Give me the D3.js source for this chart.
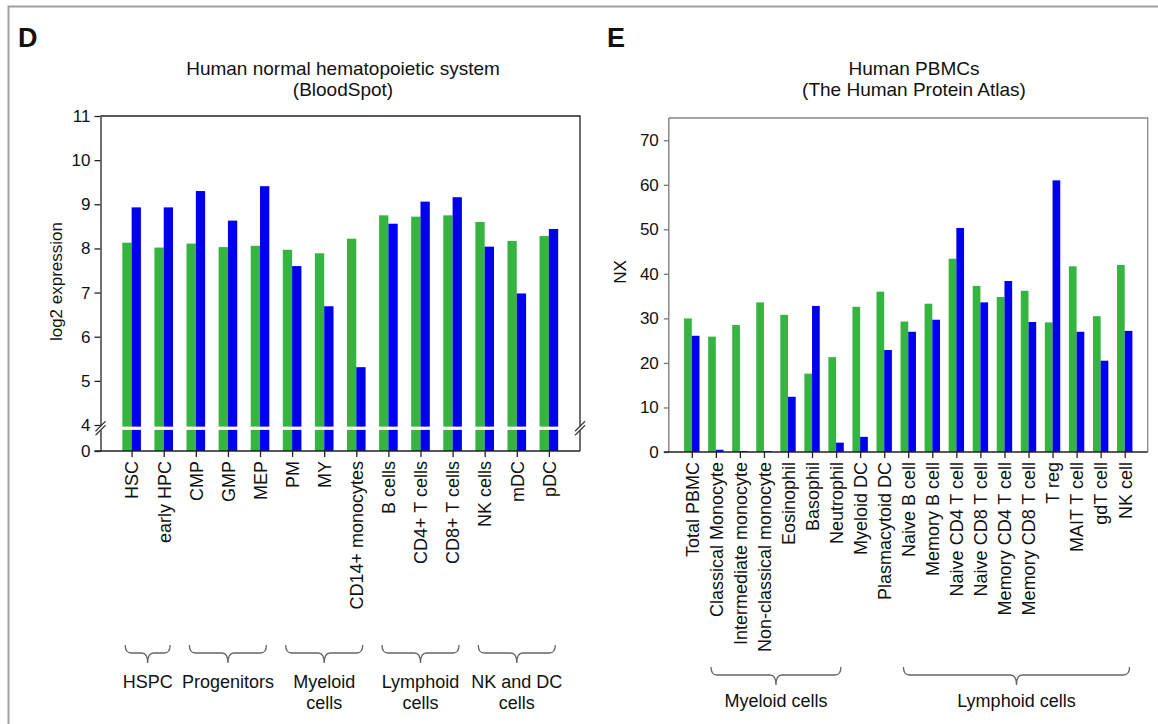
<!DOCTYPE html>
<html>
<head>
<meta charset="utf-8">
<script src="https://cdn.jsdelivr.net/npm/d3@7"></script>
<style>
  body { margin: 0; background: #fff; }
  text { font-family: "Liberation Sans", Arial, sans-serif; fill: #111; }
</style>
</head>
<body>
<svg id="fig" width="1158" height="724"></svg>
<script>
// ---- panel D : BloodSpot ----
const cellsD = ["HSC", "early HPC", "CMP", "GMP", "MEP", "PM", "MY", "CD14+ monocytes",
  "B cells", "CD4+ T cells", "CD8+ T cells", "NK cells", "mDC", "pDC"];
const greenD = [8.13, 8.02, 8.11, 8.03, 8.06, 7.97, 7.89, 8.22, 8.75, 8.72, 8.75, 8.60, 8.17, 8.28];
const blueD  = [8.93, 8.93, 9.30, 8.63, 9.41, 7.60, 6.69, 5.31, 8.56, 9.06, 9.16, 8.04, 6.98, 8.44];
const yTicksD = [0, 4, 5, 6, 7, 8, 9, 10, 11];
const groupNamesD = [["HSPC"], ["Progenitors"], ["Myeloid", "cells"], ["Lymphoid", "cells"], ["NK and DC", "cells"]];
const groupFirstD = ["HSC", "CMP", "PM", "B cells", "NK cells"];
const groupLastD  = ["early HPC", "MEP", "CD14+ monocytes", "CD8+ T cells", "pDC"];

// ---- panel E : Human Protein Atlas ----
const cellsE = ["Total PBMC", "Classical Monocyte", "Intermediate monocyte", "Non-classical monocyte",
  "Eosinophil", "Basophil", "Neutrophil", "Myeloid DC", "Plasmacytoid DC", "Naive B cell",
  "Memory B cell", "Naive CD4 T cell", "Naive CD8 T cell", "Memory CD4 T cell",
  "Memory CD8 T cell", "T reg", "MAIT T cell", "gdT cell", "NK cell"];
const greenE = [30.0, 25.9, 28.5, 33.6, 30.8, 17.6, 21.3, 32.6, 36.0, 29.3, 33.3, 43.4, 37.3, 34.8, 36.2, 29.1, 41.7, 30.5, 42.0];
const blueE  = [26.1, 0.5, 0.2, 0.2, 12.4, 32.8, 2.1, 3.4, 22.9, 27.0, 29.7, 50.3, 33.6, 38.4, 29.2, 61.0, 27.0, 20.5, 27.2];
const yTicksE = [0, 10, 20, 30, 40, 50, 60, 70];
const groupNamesE = ["Myeloid cells", "Lymphoid cells"];
const groupFirstE = ["Classical Monocyte", "Naive B cell"];
const groupLastE  = ["Neutrophil", "NK cell"];

const GREEN = "#36b440", BLUE = "#0000ee";
const FONT = "Liberation Sans, Arial, sans-serif";
const svg = d3.select("#fig");

// outer frame
svg.append("rect").attr("x", 8.5).attr("y", 6.5).attr("width", 1170).attr("height", 740)
  .attr("fill", "none").attr("stroke", "#a0a0a0").attr("stroke-width", 2);

function brace(g, x0, x1, y0, col) {
  const xm = (x0 + x1) / 2, y1 = y0 + 8, y2 = y0 + 18;
  g.append("path")
    .attr("d", `M${x0},${y0} Q${x0},${y1} ${x0 + 6},${y1} L${xm - 6},${y1} Q${xm},${y1} ${xm},${y2}` +
      ` Q${xm},${y1} ${xm + 6},${y1} L${x1 - 6},${y1} Q${x1},${y1} ${x1},${y0}`)
    .attr("fill", "none").attr("stroke", col).attr("stroke-width", 1.3);
}

// ================= PANEL D =================
{
  const left = 100.5, right = 580, top = 116, base = 451;
  const x = d3.scalePoint().domain(cellsD).range([left, right]).padding(0.97);
  const y = d3.scaleLinear().domain([0, 4, 11]).range([base, 425, top]);
  const bw = x.step() * 0.29;
  const gap = [3.25, 3.75];

  svg.append("text").attr("x", 18).attr("y", 47).attr("font-size", 27).attr("font-weight", "bold").text("D");
  const title = svg.append("text").attr("text-anchor", "middle").attr("font-size", 19);
  title.append("tspan").attr("x", 343).attr("y", 75).text("Human normal hematopoietic system");
  title.append("tspan").attr("x", 343).attr("y", 96).text("(BloodSpot)");

  const g = svg.append("g");
  g.selectAll(".g").data(cellsD).join("rect")
    .attr("x", d => x(d) - bw).attr("width", bw)
    .attr("y", (d, i) => y(greenD[i])).attr("height", (d, i) => y(0) - y(greenD[i]))
    .attr("fill", GREEN);
  g.selectAll(".b").data(cellsD).join("rect")
    .attr("x", d => x(d)).attr("width", bw)
    .attr("y", (d, i) => y(blueD[i])).attr("height", (d, i) => y(0) - y(blueD[i]))
    .attr("fill", BLUE);
  // break gap across bars
  g.append("rect").attr("x", left + 2).attr("width", right - left - 4)
    .attr("y", y(gap[1])).attr("height", y(gap[0]) - y(gap[1])).attr("fill", "#fff");

  // frame top & right
  g.append("path").attr("d", `M${left},${top}H${right}V${base}`).attr("fill", "none").attr("stroke", "#222").attr("stroke-width", 1.3);

  const ya = g.append("g").attr("transform", `translate(${left},0)`)
    .call(d3.axisLeft(y).tickValues(yTicksD).tickSize(6).tickPadding(4).tickSizeOuter(0));
  ya.selectAll("text").attr("font-size", 17).attr("font-family", FONT).attr("fill", "#111");
  ya.selectAll("line,path").attr("stroke", "#222").attr("stroke-width", 1.3);

  const xa = g.append("g").attr("transform", `translate(0,${base})`)
    .call(d3.axisBottom(x).tickSize(6).tickSizeOuter(0));
  xa.select("path").attr("d", `M${left - 6},0H${right}`);
  xa.selectAll("line,path").attr("stroke", "#222").attr("stroke-width", 1.3);
  xa.selectAll("text").attr("font-size", 18).attr("font-family", FONT).attr("fill", "#111")
    .attr("transform", "rotate(-90)").attr("text-anchor", "end")
    .attr("x", -10).attr("y", 0).attr("dy", "0.35em");

  // break marks
  [left, right].forEach(bx => {
    const by = (y(gap[0]) + y(gap[1])) / 2;
    g.append("rect").attr("x", bx - 2).attr("y", by - 2).attr("width", 4).attr("height", 4).attr("fill", "#fff");
    [-2, 2].forEach(o => g.append("line")
      .attr("x1", bx - 5).attr("y1", by + o + 5).attr("x2", bx + 5).attr("y2", by + o - 5)
      .attr("stroke", "#333").attr("stroke-width", 1.1));
  });

  svg.append("text").attr("transform", `translate(62,${y(7.25)}) rotate(-90)`)
    .attr("text-anchor", "middle").attr("font-size", 17).text("log2 expression");

  // groups
  const st = x.step();
  groupNamesD.forEach((lines, i) => {
    const x0 = x(groupFirstD[i]) - st * 0.2, x1 = x(groupLastD[i]) + st * 0.2;
    brace(g, x0, x1, 645, "#666");
    const t = g.append("text").attr("text-anchor", "middle").attr("font-size", 18);
    lines.forEach((l, k) => t.append("tspan").attr("x", (x0 + x1) / 2).attr("y", 688 + k * 21).text(l));
  });
}

// ================= PANEL E =================
{
  const left = 668.8, right = 1147.7, top = 118, base = 452;
  const x = d3.scalePoint().domain(cellsE).range([left, right]).padding(0.956);
  const y = d3.scaleLinear().domain([0, 75]).range([base, top]);
  const bw = x.step() * 0.32;

  svg.append("text").attr("x", 607).attr("y", 47).attr("font-size", 27).attr("font-weight", "bold").text("E");
  const title = svg.append("text").attr("text-anchor", "middle").attr("font-size", 19);
  title.append("tspan").attr("x", 914).attr("y", 75).text("Human PBMCs");
  title.append("tspan").attr("x", 914).attr("y", 96).text("(The Human Protein Atlas)");

  const g = svg.append("g");
  g.selectAll(".g").data(cellsE).join("rect")
    .attr("x", d => x(d) - bw).attr("width", bw)
    .attr("y", (d, i) => y(greenE[i])).attr("height", (d, i) => y(0) - y(greenE[i]))
    .attr("fill", GREEN);
  g.selectAll(".b").data(cellsE).join("rect")
    .attr("x", d => x(d)).attr("width", bw)
    .attr("y", (d, i) => y(blueE[i])).attr("height", (d, i) => y(0) - y(blueE[i]))
    .attr("fill", BLUE);

  g.append("path").attr("d", `M${left},${top}H${right}V${base}`).attr("fill", "none").attr("stroke", "#888").attr("stroke-width", 1.3);

  const ya = g.append("g").attr("transform", `translate(${left},0)`)
    .call(d3.axisLeft(y).tickValues(yTicksE).tickSize(5).tickPadding(5).tickSizeOuter(0));
  ya.select("path").attr("d", `M0,${top}V${base}`);
  ya.selectAll("line,path").attr("stroke", "#777").attr("stroke-width", 1.3);
  ya.selectAll("text").attr("font-size", 17).attr("font-family", FONT).attr("fill", "#111");

  const xa = g.append("g").attr("transform", `translate(0,${base})`)
    .call(d3.axisBottom(x).tickSize(6).tickSizeOuter(0));
  xa.select("path").attr("d", `M${left - 5},0H${right}`);
  xa.selectAll("line,path").attr("stroke", "#222").attr("stroke-width", 1.3);
  xa.selectAll("text").attr("font-size", 18).attr("font-family", FONT).attr("fill", "#111")
    .attr("transform", "rotate(-90)").attr("text-anchor", "end")
    .attr("x", -10).attr("y", 0).attr("dy", "0.35em");

  svg.append("text").attr("transform", `translate(626,272) rotate(-90)`)
    .attr("text-anchor", "middle").attr("font-size", 17).text("NX");

  const st = x.step();
  groupNamesE.forEach((name, i) => {
    const x0 = x(groupFirstE[i]) - st * 0.2, x1 = x(groupLastE[i]) + st * 0.2;
    brace(g, x0, x1, 667, "#666");
    g.append("text").attr("x", (x0 + x1) / 2).attr("y", 707).attr("text-anchor", "middle")
      .attr("font-size", 18).text(name);
  });
}
</script>
</body>
</html>
